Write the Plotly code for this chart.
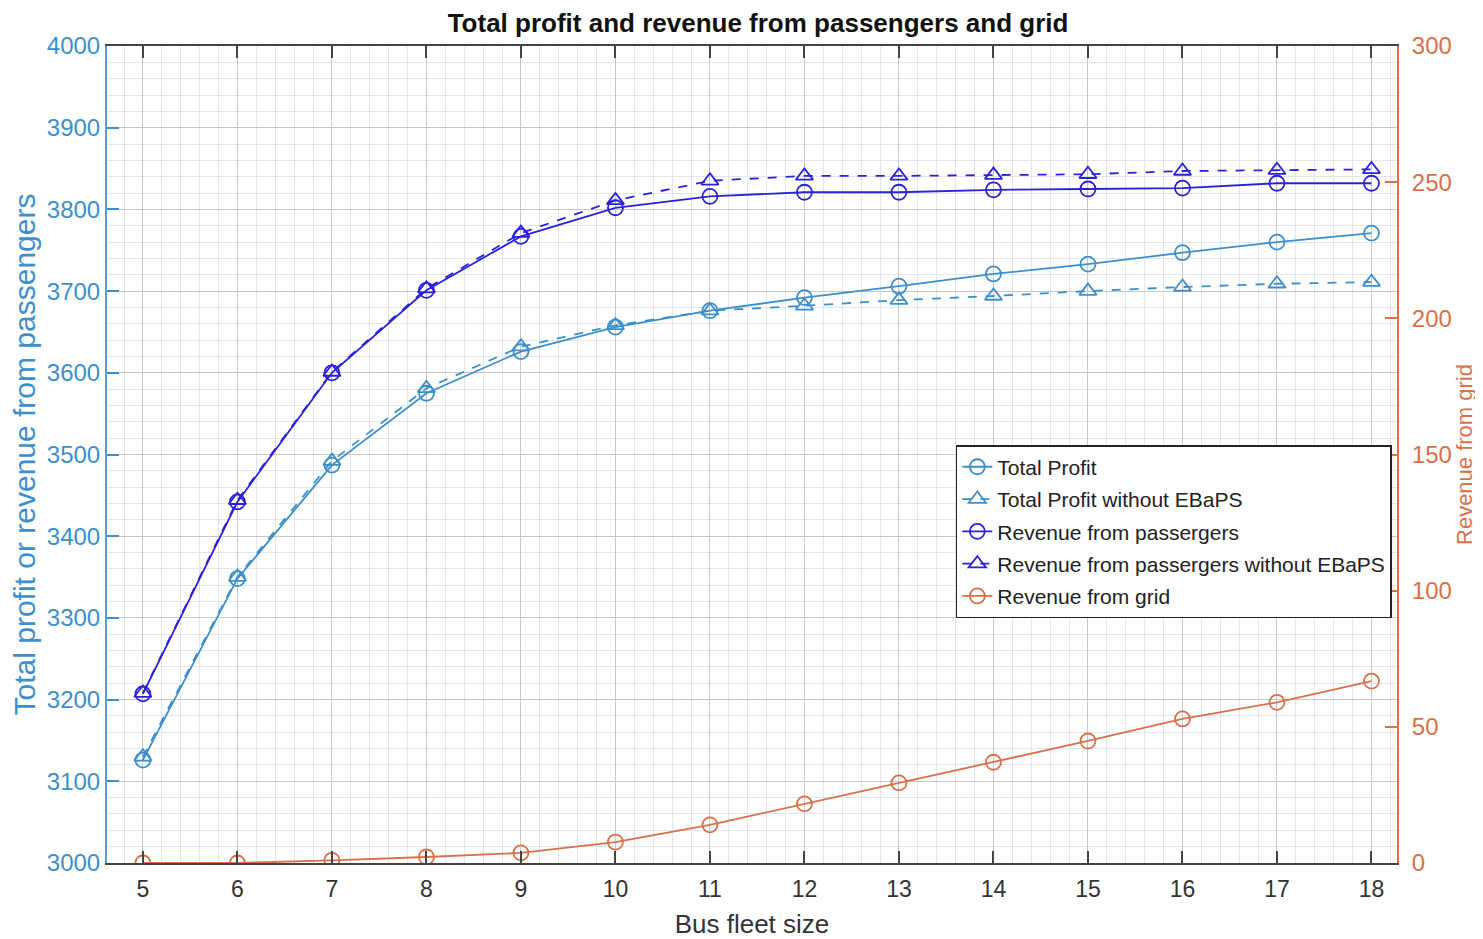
import plotly.graph_objects as go

fleet = [5, 6, 7, 8, 9, 10, 11, 12, 13, 14, 15, 16, 17, 18]
total_profit = [3126, 3348, 3487, 3575, 3626, 3656, 3676, 3692, 3706, 3721, 3733, 3747, 3760, 3771]
total_profit_wo = [3130, 3350, 3492, 3581, 3632, 3658, 3676, 3682, 3689, 3694, 3700, 3705, 3709, 3711]
rev_pass = [3207, 3442, 3600, 3701, 3767, 3802, 3816, 3821, 3821, 3824, 3825, 3826, 3832, 3832]
rev_pass_wo = [3208, 3444, 3601, 3703, 3771, 3811, 3835, 3841, 3841, 3842, 3843, 3847, 3848, 3849]
rev_grid = [0, 0, 1, 2.2, 3.7, 7.7, 14, 21.7, 29.4, 37, 44.8, 52.9, 59, 66.8]

x_ticks = list(range(5, 19))
left_ticks = list(range(3000, 4001, 100))
right_ticks = list(range(0, 301, 50))

C_TP = "#3d8fcb"
C_RP = "#2b22d8"
C_GR = "#d9704a"
FONT = "Liberation Sans, Arial, sans-serif"

fig = go.Figure()

def add(y, name, color, dash, symbol, axis="y"):
    fig.add_trace(go.Scatter(
        x=fleet, y=y, name=name, yaxis=axis, mode="lines+markers", legendgroup=name,
        line=dict(color=color, width=1.8, dash=dash),
        marker=dict(symbol=symbol, size=15, color=color, line=dict(color=color, width=1.8)),
    ))

add(total_profit, "Total Profit", C_TP, "solid", "circle-open")
add(total_profit_wo, "Total Profit without EBaPS", C_TP, "dash", "triangle-up-open")
add(rev_pass, "Revenue from passergers", C_RP, "solid", "circle-open")
add(rev_pass_wo, "Revenue from passergers without EBaPS", C_RP, "dash", "triangle-up-open")
add(rev_grid, "Revenue from grid", C_GR, "solid", "circle-open", axis="y2")

fig.update_layout(
    width=1475, height=931,
    margin=dict(l=99, r=86, t=38, b=76, autoexpand=False),
    paper_bgcolor="white", plot_bgcolor="white",
    font=dict(family=FONT, size=20, color="#333333"),
    title=dict(text="<b>Total profit and revenue from passengers and grid</b>",
               x=0.5085, xref="container", xanchor="center", y=0.984, yref="container", yanchor="middle",
               font=dict(size=26, color="#111111", family=FONT)),
    showlegend=True,
    legend=dict(x=0.658, y=0.5115, xanchor="left", yanchor="top",
                bgcolor="white", bordercolor="#222222", borderwidth=1.5,
                font=dict(size=21, color="#222222", family=FONT),
                tracegroupgap=2, itemsizing="trace"),
    xaxis=dict(
        range=[4.62, 18.27], tickvals=x_ticks, ticks="inside", ticklen=12, tickwidth=1.5,
        tickcolor="#444444", showline=True, linecolor="#444444", linewidth=2, mirror="ticks",
        showgrid=True, gridcolor="#c8c8c8", gridwidth=1, zeroline=False, automargin=False,
        minor=dict(dtick=0.2, showgrid=True, gridcolor="#e0e6ee", gridwidth=1),
        tickfont=dict(size=23, color="#333333"), ticklabelstandoff=4,
        title=dict(text="Bus fleet size", font=dict(size=26, color="#333333"), standoff=18),
    ),
    yaxis=dict(
        range=[3000, 4000], tickvals=left_ticks, ticks="inside", ticklen=12, tickwidth=1.5,
        tickcolor="#3d8fcb", showline=True, linecolor="#5a9fd4", linewidth=2,
        showgrid=True, gridcolor="#c8c8c8", gridwidth=1, zeroline=False, automargin=False,
        minor=dict(dtick=20, showgrid=True, gridcolor="#e0e6ee", gridwidth=1),
        tickfont=dict(size=24, color="#3d8fcb"),
        title=dict(text="Total profit or revenue from passengers", font=dict(size=30, color="#3d8fcb"), standoff=4),
    ),
    yaxis2=dict(
        range=[0, 300], tickvals=right_ticks, overlaying="y", side="right",
        ticks="inside", ticklen=12, tickwidth=1.5, tickcolor=C_GR,
        showline=True, linecolor=C_GR, linewidth=2, showgrid=False, zeroline=False, automargin=False,
        tickfont=dict(size=24, color=C_GR), ticklabelstandoff=8,
        title=dict(text="Revenue from grid", font=dict(size=22, color=C_GR), standoff=1),
    ),
)

fig.write_html("out.html")
